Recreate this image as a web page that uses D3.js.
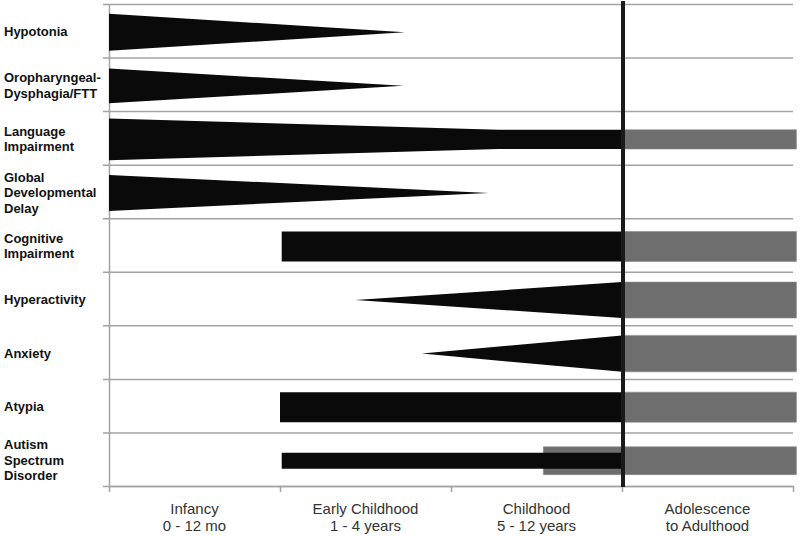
<!DOCTYPE html>
<html>
<head>
<meta charset="utf-8">
<script src="https://cdn.jsdelivr.net/npm/d3@7"></script>
<style>
    body { margin: 0; background: #ffffff; }
    #chart { width: 800px; height: 536px; }
    .rowLabel { font-family: "Liberation Sans", Arial, sans-serif; font-size: 13px; font-weight: bold; fill: #111111; }
    .bandLabel { font-family: "Liberation Sans", Arial, sans-serif; font-size: 15px; fill: #333333; }
</style>
</head>
<body>
<div id="chart"></div>
<script>

// conditions, top to bottom (line breaks as in the figure)
const conditions = [
    "Hypotonia",
    "Oropharyngeal-|Dysphagia/FTT",
    "Language|Impairment",
    "Global|Developmental|Delay",
    "Cognitive|Impairment",
    "Hyperactivity",
    "Anxiety",
    "Atypia",
    "Autism|Spectrum|Disorder"
];

// age periods along the bottom
const ageBands = [
    "Infancy|0 - 12 mo",
    "Early Childhood|1 - 4 years",
    "Childhood|5 - 12 years",
    "Adolescence|to Adulthood"
];

// black marks (childhood): profile = [age position, relative thickness]
const childhoodMarks = [
    {condition: "Hypotonia", profile: [[0, 0.69], [1.73, 0]]},
    {condition: "Oropharyngeal-|Dysphagia/FTT", profile: [[0, 0.65], [1.72, 0]]},
    {condition: "Language|Impairment", profile: [[0, 0.78], [2.28, 0.36], [3, 0.36]]},
    {condition: "Global|Developmental|Delay", profile: [[0, 0.67], [2.22, 0]]},
    {condition: "Cognitive|Impairment", profile: [[1.01, 0.56], [3, 0.56]]},
    {condition: "Hyperactivity", profile: [[1.44, 0], [3, 0.67]]},
    {condition: "Anxiety", profile: [[1.83, 0], [3, 0.68]]},
    {condition: "Atypia", profile: [[1.0, 0.56], [3, 0.56]]},
    {condition: "Autism|Spectrum|Disorder", profile: [[1.01, 0.30], [3, 0.30]]}
];

// grey marks (persisting into adolescence / adulthood)
const adultMarks = [
    {condition: "Language|Impairment", profile: [[3, 0.36], [4.02, 0.36]]},
    {condition: "Cognitive|Impairment", profile: [[3, 0.56], [4.02, 0.56]]},
    {condition: "Hyperactivity", profile: [[3, 0.67], [4.02, 0.67]]},
    {condition: "Anxiety", profile: [[3, 0.68], [4.02, 0.68]]},
    {condition: "Atypia", profile: [[3, 0.56], [4.02, 0.56]]},
    {condition: "Autism|Spectrum|Disorder", profile: [[2.54, 0.52], [4.02, 0.52]]}
];

// position of the heavy divider (start of adolescence)
const dividerAt = 3;

/*
SVG
*/
const width = 800;
const height = 536;
const margin = {top: 4, left: 109, right: 7, bottom: 50};

const svg = d3.select("#chart")
    .append("svg")
    .attr("width", width)
    .attr("height", height);

/*
SCALES
*/
const xScale = d3.scaleLinear()
    .domain([0, ageBands.length])
    .range([margin.left, width - margin.right]);

const yScale = d3.scaleBand()
    .domain(conditions)
    .range([margin.top, height - margin.bottom])
    .paddingInner(0)
    .paddingOuter(0);

const rowEdges = d3.scaleLinear()
    .domain([0, conditions.length])
    .range([margin.top, height - margin.bottom]);

/*
GRID + AXES
*/
const yAxis = svg.append("g")
    .attr("transform", `translate(${margin.left},0)`)
    .call(d3.axisLeft(rowEdges).tickValues(d3.range(conditions.length + 1)).tickFormat("").tickSizeOuter(0));
yAxis.selectAll(".tick line")
    .attr("x1", -6)
    .attr("x2", xScale.range()[1] - margin.left);
yAxis.selectAll("line, path")
    .attr("stroke", "#a3a3a3")
    .attr("stroke-width", 1.5);

const xAxis = svg.append("g")
    .attr("transform", `translate(0,${height - margin.bottom})`)
    .call(d3.axisBottom(xScale).tickValues(d3.range(ageBands.length + 1)).tickFormat("").tickSize(6).tickSizeOuter(0));
xAxis.selectAll("line, path")
    .attr("stroke", "#a3a3a3")
    .attr("stroke-width", 1.5);

/*
MARKS
*/
function rowCenter(d) {
    return yScale(d.condition) + yScale.bandwidth() / 2 + 1.5;
}

function markPath(d) {
    const c = rowCenter(d);
    const h = yScale.bandwidth();
    return d3.area()
        .x(function(p) { return xScale(p[0]); })
        .y0(function(p) { return c - p[1] * h / 2; })
        .y1(function(p) { return c + p[1] * h / 2; })
        .curve(d3.curveLinear)(d.profile);
}

svg.selectAll(".adult")
    .data(adultMarks)
    .enter()
    .append("path")
        .attr("class", "adult")
        .attr("d", markPath)
        .attr("fill", "#6e6e6e")
        .attr("stroke", "#8a8a8a")
        .attr("stroke-width", 0.6);

svg.selectAll(".child")
    .data(childhoodMarks)
    .enter()
    .append("path")
        .attr("class", "child")
        .attr("d", markPath)
        .attr("fill", "#0a0a0a");

// heavy divider
svg.append("line")
    .attr("x1", xScale(dividerAt) + 1)
    .attr("x2", xScale(dividerAt) + 1)
    .attr("y1", 1)
    .attr("y2", height - margin.bottom + 1)
    .attr("stroke", "#1a1a1a")
    .attr("stroke-width", 4);

/*
LABELS
*/
const lineH = 15.5;

svg.selectAll(".rowLabel")
    .data(conditions)
    .enter()
    .append("text")
        .attr("class", "rowLabel")
        .each(function(d) {
            const lines = d.split("|");
            const c = yScale(d) + yScale.bandwidth() / 2 + 1;
            const first = c - (lines.length - 1) * lineH / 2 + 4.6;
            d3.select(this).selectAll("tspan")
                .data(lines)
                .enter()
                .append("tspan")
                    .attr("x", 4)
                    .attr("y", function(l, i) { return first + i * lineH; })
                    .text(function(l) { return l; });
        });

svg.selectAll(".bandLabel")
    .data(ageBands)
    .enter()
    .append("text")
        .attr("class", "bandLabel")
        .attr("text-anchor", "middle")
        .each(function(d, i) {
            const cx = xScale(i + 0.5);
            d3.select(this).selectAll("tspan")
                .data(d.split("|"))
                .enter()
                .append("tspan")
                    .attr("x", cx)
                    .attr("y", function(l, j) { return 514 + j * 16.5; })
                    .text(function(l) { return l; });
        });

</script>
</body>
</html>
